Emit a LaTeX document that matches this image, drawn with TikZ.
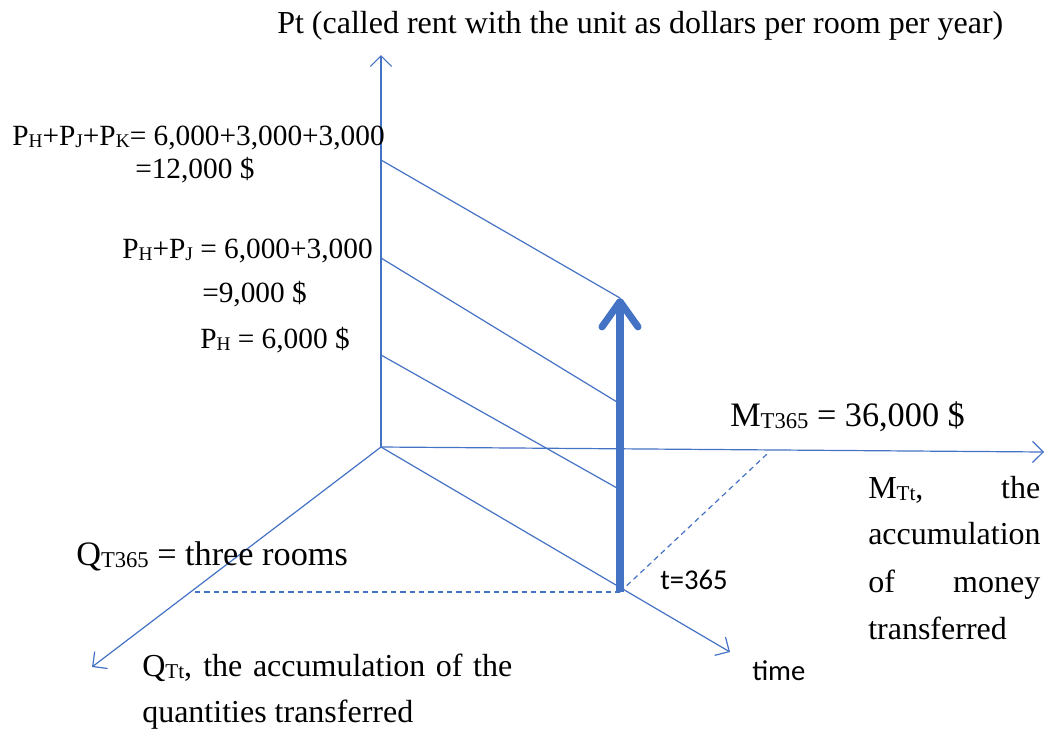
\documentclass[tikz,border=0pt]{standalone}
\usepackage{fontspec}
\usepackage{graphicx}
\setmainfont{Liberation Serif}
\newfontfamily\calib{Carlito}
\usetikzlibrary{arrows.meta}
\definecolor{axblue}{RGB}{68,114,196}
\newcommand\sub[1]{\raisebox{-0.07em}{\scalebox{0.66}{#1}}}
\begin{document}
\begin{tikzpicture}[x=0.75pt,y=-0.75pt,
  axis/.style={draw=axblue,line width=0.9pt,-{Straight Barb[length=8pt,width=16pt]}},
  guide/.style={draw=axblue,line width=0.9pt},
  dashline/.style={draw=axblue,line width=0.9pt,dash pattern=on 4pt off 3pt},
  bigarrow/.style={draw=axblue,line width=5.3pt,-{Straight Barb[length=19pt,width=27pt,round]}},
  txt/.style={inner sep=0pt,anchor=base west,font=\fontsize{24}{30}\selectfont},
  lft/.style={inner sep=0pt,anchor=base west,font=\fontsize{22}{28}\selectfont},
  big/.style={inner sep=0pt,anchor=base west,font=\fontsize{25.7}{32}\selectfont},
  sans/.style={inner sep=0pt,anchor=base west,font=\calib\fontsize{21.5}{26}\selectfont}]
\useasboundingbox (0,0) rectangle (1046,729);
% coordinates
\coordinate (O) at (381,447);
\coordinate (Ptop) at (381,55);
\coordinate (Mend) at (1044,452);
\coordinate (Qend) at (92,667);
\coordinate (Tend) at (730,652);
\coordinate (L1) at (381,160);
\coordinate (L2) at (381,258);
\coordinate (L3) at (381,355);
\coordinate (E1) at (620,298);
\coordinate (E2) at (617,402);
\coordinate (E3) at (617,488);
\coordinate (B) at (620,592);
\coordinate (D1) at (195,592);
\coordinate (D2) at (767,454);
% axes
\draw[axis] (O) -- (Ptop);
\draw[axis] (O) -- (Mend);
\draw[axis] (O) -- (Qend);
\draw[axis] (O) -- (Tend);
% level lines
\draw[guide] (L1) -- (E1);
\draw[guide] (L2) -- (E2);
\draw[guide] (L3) -- (E3);
% dashed
\draw[dashline] (D1) -- (B);
\draw[dashline] (B) -- (D2);
% big arrow
\draw[bigarrow] (B) -- (E1);
% texts
\node[txt] (title) at (277,33) {Pt (called rent with the unit as dollars per room per year)};
\node[lft] (a1) at (12,145) {P\sub{H}+P\sub{J}+P\sub{K}= 6,000+3,000+3,000};
\node[lft] (a2) at (135,178) {=12,000 \$};
\node[lft] (b1) at (122,258) {P\sub{H}+P\sub{J} = 6,000+3,000};
\node[lft] (b2) at (202,302) {=9,000 \$};
\node[lft] (c1) at (200,348) {P\sub{H} = 6,000 \$};
\node[big] (mt) at (730,426) {M\sub{T365} = 36,000 \$};
\node[big] (qt) at (76,565) {Q\sub{T365} = three rooms};
\node[txt] (m1) at (868,498) {\makebox[129pt][s]{M\sub{Tt}, the}};
\node[txt] (m2) at (868,544) {accumulation};
\node[txt] (m3) at (868,592) {\makebox[129pt][s]{of money}};
\node[txt] (m4) at (868,639) {transferred};
\node[txt] (q1) at (142,676) {\makebox[277.5pt][s]{Q\sub{Tt}, the accumulation of the}};
\node[txt] (q2) at (142,722) {quantities transferred};
\node[sans] (t365) at (660,589) {t=365};
\node[sans] (time) at (752,680) {time};
\end{tikzpicture}
\end{document}
